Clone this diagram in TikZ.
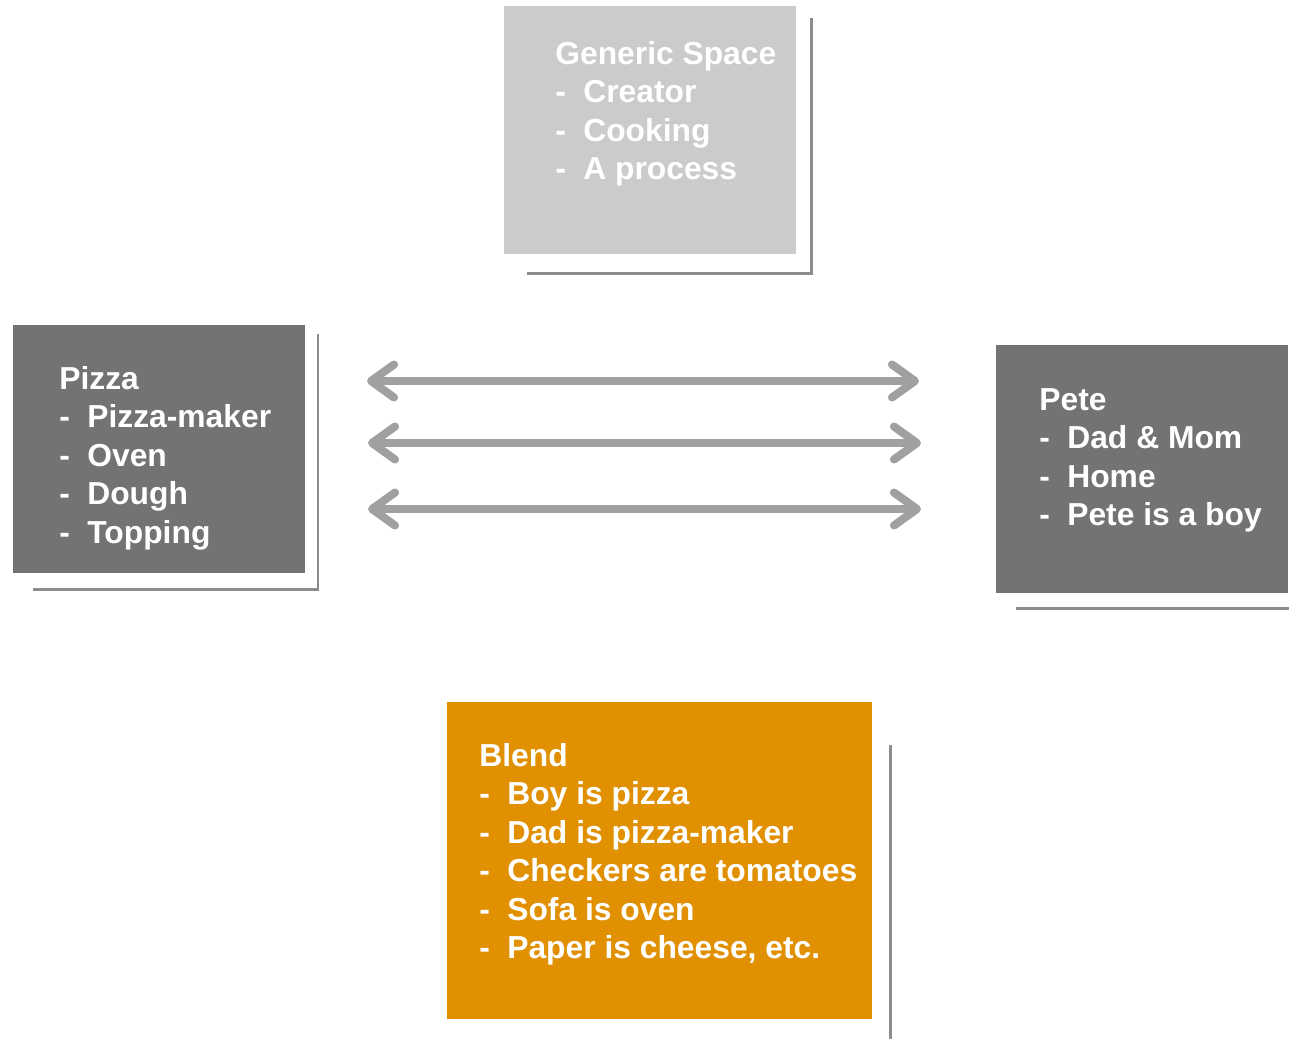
\documentclass[tikz,border=0pt]{standalone}
\usepackage{fontspec}
\setmainfont{Liberation Sans}
\usetikzlibrary{arrows.meta}

\definecolor{genericgray}{HTML}{CBCBCB}
\definecolor{inputgray}{HTML}{737373}
\definecolor{blendorange}{HTML}{E09000}
\definecolor{shadowgray}{HTML}{8C8C8C}
\definecolor{arrowgray}{HTML}{A0A0A0}

\newcommand{\dashitem}[1]{\\\makebox[0.56cm][l]{-}#1}

\tikzset{
    spacebox/.style={draw=none, minimum width=5.84cm, minimum height=4.96cm, inner sep=0pt},
    boxtext/.style={anchor=north west, inner sep=0pt, align=left, text=white,
        font=\fontsize{18.1}{21.9}\selectfont\bfseries},
    shadowline/.style={shadowgray, line width=1.7pt},
    link/.style={arrowgray, line width=4.6pt,
        {Straight Barb[length=0.46cm, width=0.66cm, round]}-{Straight Barb[length=0.46cm, width=0.66cm, round]}}
}

\begin{document}
\begin{tikzpicture}[x=0.02cm, y=-0.02cm]
    \useasboundingbox (0,0) rectangle (1289,1039);

    % Boxes
    \node (generic) [spacebox, fill=genericgray] at (650,130) {};
    \node (pizza) [spacebox, fill=inputgray] at (159,449) {};
    \node (pete) [spacebox, fill=inputgray] at (1142,469) {};
    \node (blend) [spacebox, fill=blendorange, minimum width=8.5cm, minimum height=6.34cm] at (659.5,860.5) {};

    % Shadow lines
    \draw [shadowline] (811,18) |- (527,273);
    \draw [shadowline] (318,334) |- (33,589);
    \draw [shadowline] (1016,608) -- (1289,608);
    \draw [shadowline] (890,745) -- (890,1039);

    % Texts
    \node (generictext) [boxtext] at (555,41) {Generic Space\dashitem{Creator}\dashitem{Cooking}\dashitem{A process}};
    \node (pizzatext) [boxtext] at (59,366) {Pizza\dashitem{Pizza-maker}\dashitem{Oven}\dashitem{Dough}\dashitem{Topping}};
    \node (petetext) [boxtext] at (1039,388) {Pete\dashitem{Dad \& Mom}\dashitem{Home}\dashitem{Pete is a boy}};
    \node (blendtext) [boxtext] at (479,743) {Blend\dashitem{Boy is pizza}\dashitem{Dad is pizza-maker}\dashitem{Checkers are tomatoes}\dashitem{Sofa is oven}\dashitem{Paper is cheese, etc.}};

    % Mappings
    \coordinate (map1l) at (367,381);
    \coordinate (map1r) at (919,381);
    \coordinate (map2l) at (368,443);
    \coordinate (map2r) at (921,443);
    \coordinate (map3l) at (368,509);
    \coordinate (map3r) at (921,509);

    \draw [link] (map1l) -- (map1r);
    \draw [link] (map2l) -- (map2r);
    \draw [link] (map3l) -- (map3r);

\end{tikzpicture}
\end{document}
